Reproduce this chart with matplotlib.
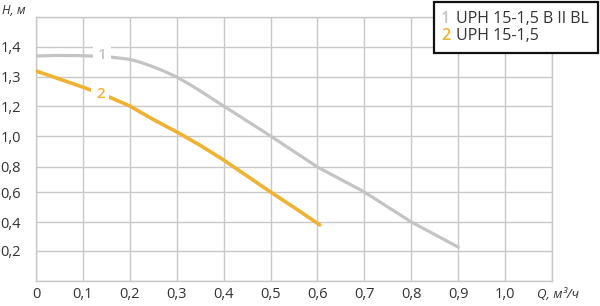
import matplotlib
matplotlib.use("Agg")
import matplotlib.pyplot as plt
from matplotlib.patches import Rectangle
import numpy as np

# curve 1: UPH 15-1,5 B II BL
q1 = [0, 0.05, 0.1, 0.15, 0.2, 0.225, 0.25, 0.275, 0.3, 0.325, 0.35, 0.4, 0.5, 0.6, 0.7, 0.8, 0.9]
h1 = [1.37, 1.372, 1.371, 1.368, 1.359, 1.348, 1.334, 1.318, 1.3, 1.277, 1.252, 1.2, 1.0, 0.8, 0.6, 0.4, 0.227]
# curve 2: UPH 15-1,5
q2 = [0, 0.05, 0.1, 0.15, 0.2, 0.25, 0.3, 0.35, 0.4, 0.45, 0.5, 0.55, 0.605]
h2 = [1.32, 1.293, 1.265, 1.235, 1.2, 1.11, 1.027, 0.94, 0.845, 0.728, 0.6, 0.497, 0.38]

names = ["UPH 15-1,5 B II BL", "UPH 15-1,5"]
x_ticks = [0, 0.1, 0.2, 0.3, 0.4, 0.5, 0.6, 0.7, 0.8, 0.9, 1.0, 1.1]
x_labels = ["0", "0,1", "0,2", "0,3", "0,4", "0,5", "0,6", "0,7", "0,8", "0,9", "1,0", ""]
y_ticks = [0, 0.2, 0.4, 0.6, 0.8, 1.0, 1.2, 1.3, 1.4, 1.5]
y_labels = ["", "0,2", "0,4", "0,6", "0,8", "1,0", "1,2", "1,3", "1,4", ""]

# the original grid is not evenly scaled, so map the values piecewise
grid_pos = [0, 30, 59, 89, 114, 145, 175, 204, 234, 264]

def fwd(v):
    return np.interp(v, y_ticks, grid_pos)

def inv(p):
    return np.interp(p, grid_pos, y_ticks)

plt.rcParams['font.family'] = ['Open Sans', 'DejaVu Sans']

gray = '#c4c4c4'
orange = '#efb232'
gridc = '#c8c8c8'
textc = '#333333'

fig = plt.figure(figsize=(6, 3.06), dpi=100)
ax = fig.add_axes([36 / 600, 1 - 281 / 306, 516 / 600, 264 / 306])
ax.set_yscale('function', functions=(fwd, inv))
ax.set_xlim(0, 1.1)
ax.set_ylim(0, 1.5)

ax.set_xticks(x_ticks)
ax.set_xticklabels(x_labels)
ax.set_yticks(y_ticks)
ax.set_yticklabels(y_labels)
ax.minorticks_off()
ax.tick_params(length=0, labelsize=10.5, colors=textc)
ax.tick_params(axis='y', pad=11)
ax.tick_params(axis='x', pad=4)
ax.grid(True, color=gridc, linewidth=1.0)
for s in ax.spines.values():
    s.set_color(gridc)
    s.set_linewidth(1.0)

ax.plot(q1, h1, color=gray, linewidth=2.3, solid_capstyle='round', zorder=3)
ax.plot(q2, h2, color=orange, linewidth=2.6, solid_capstyle='round', zorder=3)

ax.text(0.141, 1.372, "1", color=gray, fontsize=11, fontweight='semibold',
        ha='center', va='center', zorder=4,
        bbox=dict(facecolor='white', edgecolor='none', pad=3.5))
ax.text(0.137, 1.243, "2", color=orange, fontsize=11, fontweight='semibold',
        ha='center', va='center', zorder=4,
        bbox=dict(facecolor='white', edgecolor='none', pad=3.5))

fig.text(2 / 600, 1 - 11 / 306, "H, м", fontsize=9, style='italic',
         color=textc, ha='left', va='center')
fig.text(537 / 600, 1 - 294 / 306, "Q, м³/ч", fontsize=9.5, style='italic',
         color=textc, ha='left', va='center')

# legend box
fig.patches.append(Rectangle((434 / 600, 1 - 53 / 306), 164 / 600, 51 / 306,
                             transform=fig.transFigure, facecolor='white',
                             edgecolor='#111111', linewidth=1.6, zorder=5))
fig.text(441 / 600, 1 - 19 / 306, "1", color=gray, fontsize=11.5, fontweight='semibold',
         ha='left', va='center', zorder=6)
fig.text(456 / 600, 1 - 19 / 306, names[0], color=textc, fontsize=11.5,
         ha='left', va='center', zorder=6)
fig.text(441 / 600, 1 - 36 / 306, "2", color=orange, fontsize=11.5, fontweight='semibold',
         ha='left', va='center', zorder=6)
fig.text(456 / 600, 1 - 36 / 306, names[1], color=textc, fontsize=11.5,
         ha='left', va='center', zorder=6)

fig.savefig("out.png", dpi=100)
